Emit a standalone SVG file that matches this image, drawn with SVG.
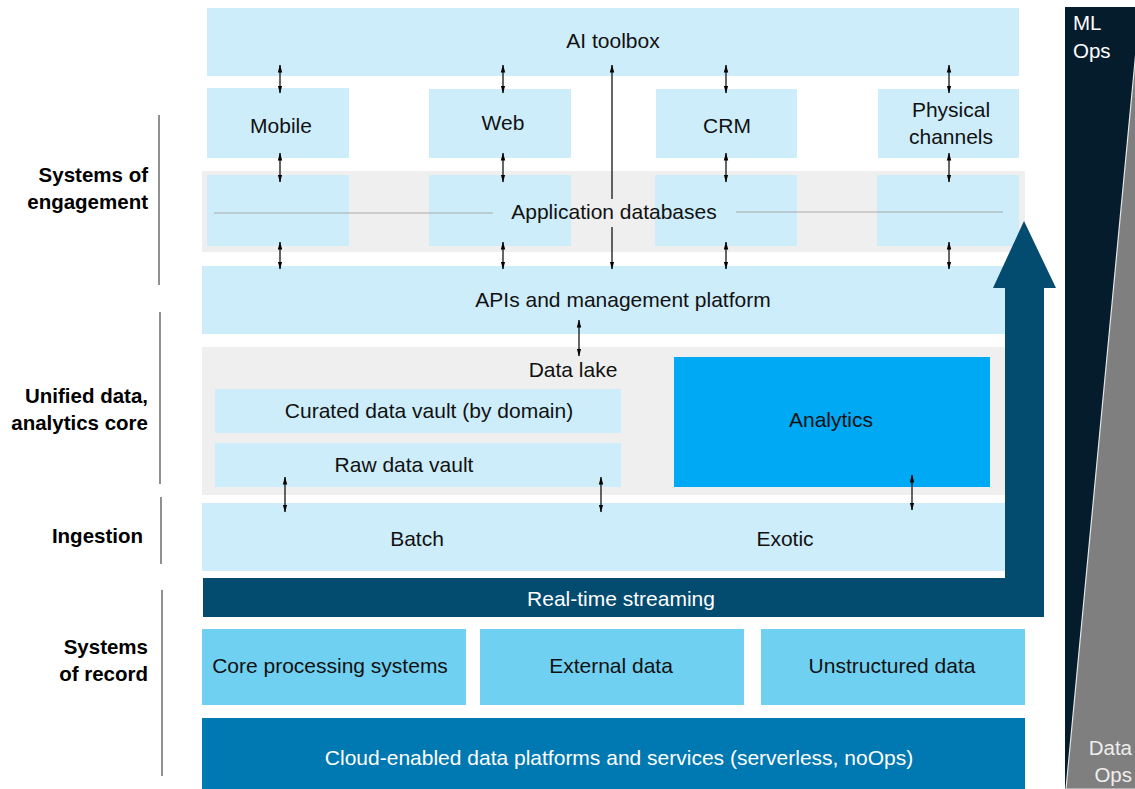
<svg xmlns="http://www.w3.org/2000/svg" width="1135" height="789" viewBox="0 0 1135 789">
  <defs>
    <marker id="ah" viewBox="0 0 8 8" refX="7.5" refY="4" markerWidth="8" markerHeight="8" markerUnits="userSpaceOnUse" orient="auto-start-reverse">
      <path d="M0,1.8 L8,4 L0,6.2 Z" fill="#000"/>
    </marker>
    <style>
      text { font-family: "Liberation Sans", Arial, sans-serif; font-size: 21px; fill: #111; text-anchor: middle; }
      .lbl { font-weight: bold; font-size: 20.5px; text-anchor: end; fill: #000; }
      .ops { font-size: 20.5px; }
      .wt { fill: #fff; }
      .light { fill: #cdedfb; }
      .band { fill: #efefef; }
      .src { fill: #70d0f1; }
      .arr { stroke: #000; stroke-width: 1.2; fill: none; marker-start: url(#ah); marker-end: url(#ah); }
      .one { stroke: #000; stroke-width: 1.2; fill: none; marker-end: url(#ah); }
      .bar { stroke: #555; stroke-width: 1.3; }
      .thin { stroke: #aaa; stroke-width: 1.2; }
    </style>
  </defs>
  <rect width="1135" height="789" fill="#fff"/>

  <!-- Ops column -->
  <g id="ops">
    <rect x="1065" y="7" width="70" height="782" fill="#051c2c"/>
    <polygon points="1137,40 1137,789 1066,789" fill="#7f7f7f" stroke="#e6e6e6" stroke-width="1.2"/>
    <text x="1073" y="30" class="wt ops" style="text-anchor:start">ML</text>
    <text x="1073" y="58" class="wt ops" style="text-anchor:start">Ops</text>
    <text x="1132" y="755" class="ops" style="text-anchor:end;fill:#eeeeee">Data</text>
    <text x="1132" y="782" class="ops" style="text-anchor:end;fill:#eeeeee">Ops</text>
  </g>

  <!-- Layer labels -->
  <g id="layer-labels">
    <text x="148" y="182" class="lbl">Systems of</text>
    <text x="148" y="209" class="lbl">engagement</text>
    <line x1="159" y1="115" x2="159" y2="285" class="bar"/>
    <text x="148" y="403" class="lbl">Unified data,</text>
    <text x="148" y="430" class="lbl">analytics core</text>
    <line x1="160" y1="312" x2="160" y2="484" class="bar"/>
    <text x="143" y="543" class="lbl">Ingestion</text>
    <line x1="161" y1="497" x2="161" y2="564" class="bar"/>
    <text x="148" y="654" class="lbl">Systems</text>
    <text x="148" y="681" class="lbl">of record</text>
    <line x1="162" y1="590" x2="162" y2="776" class="bar"/>
  </g>

  <g id="ai-toolbox">
    <rect x="207" y="8" width="812" height="68" class="light"/>
    <text x="613" y="48">AI toolbox</text>
  </g>

  <g id="mobile">
    <rect x="207" y="88" width="142" height="70" class="light"/>
    <text x="281" y="133">Mobile</text>
  </g>
  <g id="web">
    <rect x="429" y="89" width="142" height="69" class="light"/>
    <text x="503" y="130">Web</text>
  </g>
  <g id="crm">
    <rect x="656" y="89" width="141" height="69" class="light"/>
    <text x="727" y="133">CRM</text>
  </g>
  <g id="physical-channels">
    <rect x="878" y="89" width="141" height="69" class="light"/>
    <text x="951" y="117">Physical</text>
    <text x="951" y="144">channels</text>
  </g>

  <g id="application-databases">
    <rect x="202" y="171" width="823" height="81" class="band"/>
    <rect x="207" y="175" width="142" height="71" class="light"/>
    <rect x="429" y="175" width="142" height="71" class="light"/>
    <rect x="655" y="175" width="142" height="71" class="light"/>
    <rect x="877" y="175" width="142" height="71" class="light"/>
    <line x1="214" y1="213" x2="493" y2="213" class="thin"/>
    <line x1="736" y1="212" x2="1003" y2="212" class="thin"/>
    <text x="614" y="219">Application databases</text>
  </g>

  <g id="apis-platform">
    <rect x="202" y="266" width="803" height="68" class="light"/>
    <text x="623" y="307">APIs and management platform</text>
  </g>

  <g id="data-lake">
    <rect x="202" y="347" width="803" height="148" class="band"/>
    <text x="573" y="377">Data lake</text>
  </g>
  <g id="curated-data-vault">
    <rect x="215" y="389" width="406" height="44" class="light"/>
    <text x="429" y="418">Curated data vault (by domain)</text>
  </g>
  <g id="raw-data-vault">
    <rect x="215" y="443" width="406" height="44" class="light"/>
    <text x="404" y="472">Raw data vault</text>
  </g>
  <g id="analytics">
    <rect x="674" y="357" width="316" height="130" fill="#00a9f4"/>
    <text x="831" y="427">Analytics</text>
  </g>

  <g id="ingestion">
    <rect x="202" y="503" width="803" height="68" class="light"/>
    <text x="417" y="546">Batch</text>
    <text x="785" y="546">Exotic</text>
  </g>

  <g id="real-time-streaming">
    <polygon points="203,578 1005,578 1005,288 993,288 1024,221 1056,288 1044,288 1044,617 203,617" fill="#034b6f"/>
    <text x="621" y="606" class="wt">Real-time streaming</text>
  </g>

  <g id="core-processing">
    <rect x="202" y="629" width="264" height="76" class="src"/>
    <text x="330" y="673">Core processing systems</text>
  </g>
  <g id="external-data">
    <rect x="480" y="629" width="264" height="76" class="src"/>
    <text x="611" y="673">External data</text>
  </g>
  <g id="unstructured-data">
    <rect x="761" y="629" width="264" height="76" class="src"/>
    <text x="892" y="673">Unstructured data</text>
  </g>

  <g id="cloud-platforms">
    <rect x="202" y="718" width="823" height="71" fill="#0078b1"/>
    <text x="619" y="765" class="wt">Cloud-enabled data platforms and services (serverless, noOps)</text>
  </g>

  <!-- Connectors -->
  <g id="connectors">
    <line x1="280" y1="65" x2="280" y2="93" class="arr"/>
    <line x1="503" y1="65" x2="503" y2="93" class="arr"/>
    <line x1="726" y1="65" x2="726" y2="93" class="arr"/>
    <line x1="949" y1="65" x2="949" y2="93" class="arr"/>

    <line x1="280" y1="153" x2="280" y2="182" class="arr"/>
    <line x1="503" y1="153" x2="503" y2="182" class="arr"/>
    <line x1="726" y1="153" x2="726" y2="182" class="arr"/>
    <line x1="949" y1="153" x2="949" y2="182" class="arr"/>

    <line x1="280" y1="242" x2="280" y2="269" class="arr"/>
    <line x1="503" y1="242" x2="503" y2="269" class="arr"/>
    <line x1="726" y1="242" x2="726" y2="269" class="arr"/>
    <line x1="949" y1="242" x2="949" y2="269" class="arr"/>

    <line x1="612" y1="199" x2="612" y2="65" class="one"/>
    <line x1="612" y1="227" x2="612" y2="269" class="one"/>

    <line x1="579" y1="320" x2="579" y2="356" class="arr"/>

    <line x1="285" y1="477" x2="285" y2="512" class="arr"/>
    <line x1="601" y1="477" x2="601" y2="512" class="arr"/>
    <line x1="912" y1="475" x2="912" y2="510" class="arr"/>
  </g>
</svg>
